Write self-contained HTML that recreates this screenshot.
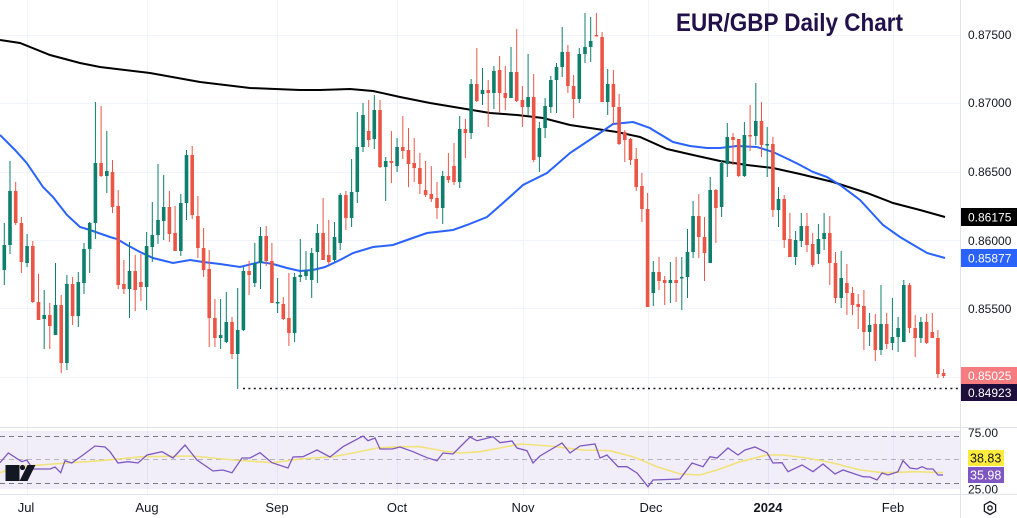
<!DOCTYPE html>
<html><head><meta charset="utf-8"><style>
html,body{margin:0;padding:0;background:#fff;}
svg{display:block;font-family:"Liberation Sans",Arial,sans-serif;}
</style></head><body>
<svg width="1017" height="518" viewBox="0 0 1017 518" xmlns="http://www.w3.org/2000/svg">
<defs>
<clipPath id="rsiAxis"><rect x="961" y="428" width="56" height="66"/></clipPath>
<clipPath id="plot"><rect x="0" y="0" width="960" height="427"/></clipPath>
</defs>
<rect width="1017" height="518" fill="#fff"/>
<!-- grid -->
<g stroke="#f0f3fa" stroke-width="1">
<path d="M0 35.5H960M0 103.5H960M0 172.5H960M0 240.5H960M0 308.5H960M0 377.5H960"/>
<path d="M27.5 0V494M147.5 0V494M277.5 0V494M397.5 0V494M523.5 0V494M648.5 0V494M768.5 0V494M893.5 0V494"/>
</g>
<!-- RSI panel bg -->
<rect x="0" y="431" width="960" height="58" fill="#7e57c2" fill-opacity="0.1"/>
<g stroke="#787b86" stroke-width="1" stroke-dasharray="5,4" fill="none">
<path d="M0 436.5H960"/>
<path d="M0 459.5H960" stroke-opacity="0.5"/>
<path d="M0 483.5H960"/>
</g>
<!-- separators -->
<g stroke="#e0e3eb" stroke-width="1">
<path d="M0 427.5H1017M0 494.5H1017M960.5 0V518"/>
</g>
<!-- title -->
<text x="676" y="31" font-size="25" font-weight="bold" fill="#22104a" textLength="227" lengthAdjust="spacingAndGlyphs">EUR/GBP Daily Chart</text>
<!-- dotted low line -->
<path d="M243 388.5H960" stroke="#131722" stroke-width="1.6" stroke-dasharray="2,3.4"/>
<g clip-path="url(#plot)">
<!-- MAs -->
<polyline fill="none" stroke="#000" stroke-width="2" points="0,40 20,43 50,55 80,63 100,67 150,73 200,82 250,88 300,90 320,90 350,89 373,91 400,97 430,103 460,108 490,113 517,115 543,118 570,125 590,128 617,132 640,137 667,149 693,155 720,161 747,165 773,168 800,174 833,182 867,193 893,203 920,210 945,217"/>
<polyline fill="none" stroke="#2962ff" stroke-width="2" points="0,135 15,150 26.7,163 43,187 53,197 67,215 80,227 90,230 110,237 117,239 127,245 140,252 153,258 165,261 173,263 190,260 203,262 220,264 240,267 260,262 273,264 287,268 300,271 313,270 325,267 340,260 353,253 373,247 393,245 407,240 427,233 453,230 467,225 487,217 503,203 523,185 547,173 570,153 597,135 613,124 633,122 650,128 653,130 673,142 690,146 707,148 720,148 737,146 757,147 773,152 790,160 800,165 813,172 827,177 840,185 860,200 883,225 900,237 927,253 945,258"/>
<!-- green candles -->
<path stroke="#0e7f6d" stroke-width="1" fill="none" d="M4.3 223V285M10 161V254M27.1 234V267M44.2 290V349M55.5 263V335M66.9 275V370M78.3 272V327M84 243V294M89.7 222V273M95.4 102V239M106.8 131V193M129.5 242V318M146.6 232V310M152.3 202V262M158 164V244M163.7 175V240M180.8 194V256M186.5 150V220M220.6 299V349M226.3 292V343M237.7 288V389M243.4 267V331M254.8 243V287M260.5 227V289M277.6 278V313M294.6 273V342M300.3 239V282M306 251V280M311.7 248V298M317.4 224V283M334.5 222V262M340.2 193V250M351.6 159V227M357.3 112V203M363 103V152M374.3 95V149M385.7 157V201M397.1 138V172M442.7 171V224M459.7 116V188M471.1 79V139M482.5 68V105M493.9 66V109M511 47V98M528.1 54V115M539.4 122V172M545.1 98V138M550.8 76V113M556.5 63V113M562.2 27V77M579.3 48V103M585 13V63M590.7 17V62M607.7 69V115M653.3 261V306M670.4 262V303M681.8 257V310M687.5 229V298M693.1 201V258M710.2 177V263M721.6 160V217M727.3 123V177M744.4 122V177M755.8 83V145M767.2 127V177M778.5 187V227M795.6 231V265M801.3 213V247M818.4 224V264M824.1 213V250M841.2 251V308M869.6 313V346M881 285V355M892.4 298V350M898.1 317V352M903.8 280V342M920.9 317V343"/>
<path fill="#0e7f6d" d="M2.5 245h3.6V270h-3.6ZM8.2 191h3.6V245h-3.6ZM25.3 246h3.6V263h-3.6ZM42.4 315h3.6V319h-3.6ZM53.7 305h3.6V335h-3.6ZM65.1 284h3.6V363h-3.6ZM76.5 282h3.6V316h-3.6ZM82.2 249h3.6V283h-3.6ZM87.9 223h3.6V249h-3.6ZM93.6 163h3.6V223h-3.6ZM105 171h3.6V176h-3.6ZM127.7 271h3.6V289h-3.6ZM144.8 246h3.6V287h-3.6ZM150.5 235h3.6V247h-3.6ZM156.2 220h3.6V235h-3.6ZM161.9 207h3.6V221h-3.6ZM179 203h3.6V251h-3.6ZM184.7 155h3.6V203h-3.6ZM218.8 335h3.6V338h-3.6ZM224.5 322h3.6V342h-3.6ZM235.9 330h3.6V354h-3.6ZM241.6 271h3.6V330h-3.6ZM253 263h3.6V283h-3.6ZM258.7 236h3.6V263h-3.6ZM275.8 302h3.6V303.5h-3.6ZM292.8 277h3.6V333h-3.6ZM298.5 275h3.6V277h-3.6ZM304.2 271h3.6V276h-3.6ZM309.9 253h3.6V280h-3.6ZM315.6 233h3.6V252h-3.6ZM332.7 237h3.6V260h-3.6ZM338.4 195h3.6V243h-3.6ZM349.8 192h3.6V218h-3.6ZM355.5 147h3.6V192h-3.6ZM361.2 115h3.6V147h-3.6ZM372.5 110h3.6V139h-3.6ZM383.9 161h3.6V167h-3.6ZM395.3 147h3.6V166h-3.6ZM440.9 176h3.6V208h-3.6ZM457.9 129h3.6V182h-3.6ZM469.3 84h3.6V133h-3.6ZM480.7 90h3.6V94h-3.6ZM492.1 71h3.6V93h-3.6ZM509.2 72h3.6V98h-3.6ZM526.3 97h3.6V107h-3.6ZM537.6 128h3.6V157h-3.6ZM543.3 106h3.6V128h-3.6ZM549 80h3.6V107h-3.6ZM554.7 67h3.6V80h-3.6ZM560.4 52h3.6V67h-3.6ZM577.5 54h3.6V99h-3.6ZM583.2 47h3.6V54h-3.6ZM588.9 41h3.6V47h-3.6ZM605.9 84h3.6V102h-3.6ZM651.5 272h3.6V293h-3.6ZM668.6 280h3.6V283h-3.6ZM680 277h3.6V278.5h-3.6ZM685.7 252h3.6V277h-3.6ZM691.3 216h3.6V252h-3.6ZM708.4 190h3.6V263h-3.6ZM719.8 163h3.6V207h-3.6ZM725.5 137h3.6V164h-3.6ZM742.6 135h3.6V176h-3.6ZM754 121h3.6V136h-3.6ZM765.4 144h3.6V145.5h-3.6ZM776.7 199h3.6V210h-3.6ZM793.8 240h3.6V257h-3.6ZM799.5 226h3.6V241h-3.6ZM816.6 239h3.6V254h-3.6ZM822.3 233h3.6V239h-3.6ZM839.4 278h3.6V298h-3.6ZM867.8 325h3.6V332h-3.6ZM879.2 324h3.6V350h-3.6ZM890.6 337h3.6V343h-3.6ZM896.3 328h3.6V337h-3.6ZM902 285h3.6V342h-3.6ZM919.1 322h3.6V338h-3.6Z"/>
<!-- red candles -->
<path stroke="#eb5545" stroke-width="1" fill="none" d="M15.7 182V225M21.4 217V273M32.8 241V303M38.5 274V320M49.8 303V349M61.2 295V373M72.6 277V325M101.1 106V177M112.5 160V213M118.2 190V289M123.9 260V294M135.2 255V311M140.9 254V301M169.4 191V242M175.1 206V251M192.2 146V219M197.9 196V258M203.6 228V277M209.2 250V347M214.9 299V347M232 317V359M249.1 261V295M266.2 226V266M271.9 243V303M283.3 297V320M288.9 273V346M323.1 198V260M328.8 220V265M345.9 191V230M368.7 100V147M380 100V168M391.4 131V183M402.8 116V159M408.5 128V187M414.2 138V182M419.9 153V194M425.6 161V197M431.3 166V202M437 182V219M448.4 153V183M454 143V185M465.4 119V158M476.8 48V102M488.2 80V127M499.6 56V113M505.3 66V110M516.7 29V102M522.4 86V127M533.7 74V162M567.9 45V93M573.6 75V118M596.4 13V36M602.1 32V102M613.4 70V124M619.1 94V145M624.8 130V162M630.5 138V165M636.2 148V191M641.9 173V222M647.6 193V307M659 257V290M664.7 276V305M676.1 257V302M698.8 194V258M704.5 217V281M715.9 189V243M733 133V165M738.7 139V177M750.1 105V151M761.5 102V157M772.9 137V217M784.2 195V248M789.9 213V257M807 213V252M812.7 233V267M829.8 216V285M835.5 252V303M846.9 264V315M852.5 287V315M858.2 294V329M863.9 290V350M875.3 314V361M886.7 313V349M909.5 283V333M915.2 315V357M926.6 314V344M932.3 313V338M937.9 330V378M943.6 369V378"/>
<path fill="#eb5545" d="M13.9 191h3.6V223h-3.6ZM19.6 223h3.6V262h-3.6ZM31 246h3.6V302h-3.6ZM36.7 302h3.6V320h-3.6ZM48 315h3.6V326h-3.6ZM59.4 305h3.6V363h-3.6ZM70.8 284h3.6V316h-3.6ZM99.3 163h3.6V176h-3.6ZM110.7 172h3.6V207h-3.6ZM116.4 206h3.6V285h-3.6ZM122.1 284h3.6V289h-3.6ZM133.4 271h3.6V290h-3.6ZM139.1 282h3.6V287h-3.6ZM167.6 207h3.6V234h-3.6ZM173.3 233h3.6V251h-3.6ZM190.4 155h3.6V215h-3.6ZM196.1 216h3.6V248h-3.6ZM201.8 248h3.6V270h-3.6ZM207.4 269h3.6V318h-3.6ZM213.1 318h3.6V338h-3.6ZM230.2 322h3.6V354h-3.6ZM247.3 271h3.6V275h-3.6ZM264.4 236h3.6V261h-3.6ZM270.1 261h3.6V303h-3.6ZM281.5 304h3.6V319h-3.6ZM287.1 318h3.6V333h-3.6ZM321.3 233h3.6V260h-3.6ZM327 255h3.6V262h-3.6ZM344.1 195h3.6V218h-3.6ZM366.9 131h3.6V140h-3.6ZM378.2 110h3.6V167h-3.6ZM389.6 161h3.6V163h-3.6ZM401 147h3.6V151h-3.6ZM406.7 150h3.6V164h-3.6ZM412.4 163h3.6V168h-3.6ZM418.1 168h3.6V184h-3.6ZM423.8 190h3.6V195h-3.6ZM429.5 194h3.6V199h-3.6ZM435.2 198h3.6V208h-3.6ZM446.6 176h3.6V180h-3.6ZM452.2 166h3.6V182h-3.6ZM463.6 129h3.6V133h-3.6ZM475 84h3.6V101h-3.6ZM486.4 90h3.6V93h-3.6ZM497.8 70h3.6V93h-3.6ZM503.5 93h3.6V98h-3.6ZM514.9 72h3.6V101h-3.6ZM520.6 100h3.6V107h-3.6ZM531.9 97h3.6V160h-3.6ZM566.1 52h3.6V86h-3.6ZM571.8 86h3.6V99h-3.6ZM594.6 35h3.6V36.5h-3.6ZM600.3 37h3.6V102h-3.6ZM611.6 84h3.6V107h-3.6ZM617.3 107h3.6V144h-3.6ZM623 132h3.6V140h-3.6ZM628.7 139h3.6V160h-3.6ZM634.4 159h3.6V187h-3.6ZM640.1 186h3.6V209h-3.6ZM645.8 209h3.6V307h-3.6ZM657.2 272h3.6V281h-3.6ZM662.9 280h3.6V283h-3.6ZM674.3 280h3.6V283h-3.6ZM697 216h3.6V237h-3.6ZM702.7 237h3.6V253h-3.6ZM714.1 190h3.6V208h-3.6ZM731.2 137h3.6V140h-3.6ZM736.9 139h3.6V176h-3.6ZM748.3 135h3.6V136.5h-3.6ZM759.7 121h3.6V145h-3.6ZM771.1 144h3.6V210h-3.6ZM782.4 199h3.6V240h-3.6ZM788.1 239h3.6V257h-3.6ZM805.2 226h3.6V245h-3.6ZM810.9 244h3.6V265h-3.6ZM828 233h3.6V263h-3.6ZM833.7 263h3.6V298h-3.6ZM845.1 283h3.6V293h-3.6ZM850.7 293h3.6V305h-3.6ZM856.4 304h3.6V307h-3.6ZM862.1 306h3.6V332h-3.6ZM873.5 324h3.6V350h-3.6ZM884.9 324h3.6V344h-3.6ZM907.7 285h3.6V328h-3.6ZM913.4 328h3.6V338h-3.6ZM924.8 322h3.6V343h-3.6ZM930.5 332h3.6V338h-3.6ZM936.1 338h3.6V374h-3.6ZM941.8 373h3.6V376h-3.6Z"/>
</g>
<!-- RSI lines -->
<polyline fill="none" stroke="#f2e27a" stroke-width="1.6" points="0,472.7 17,466.7 40,465 67,463 100,460.7 143,456.7 193,456 233,460 273,462.7 300,459 333,456.7 353,453 377,448 400,446.7 420,446.7 443,451 460,453 480,451.7 500,448 520,444 550,446 583,450 610,450.7 633,456.7 657,466.7 680,474 700,475 717,470 740,461.7 767,455 783,455 807,458 833,463 860,470 883,472.7 917,471.7 943,472.7"/>
<polyline fill="none" stroke="#7e57c2" stroke-width="1.3" points="0,462.7 8.3,453 21.7,461.7 26.7,460 33,469 50,469 55,467 60.7,472.7 65,460.7 71.7,463 83,455 95,446 105,447 110,451.7 118,463 128,461.7 138,463 147,455 162,451.7 173,458 185,445 197,460 213,471 223,470 232,472.7 242,458 250,458 260,452.7 272,462.7 288,468 293,457 303,456.7 317,450 330,457 343,446.7 363,436 368,440.7 375,438 380,449 392,449 400,447 413,451.7 427,457.7 437,460.7 443,453 453,454 462,445 470,437 477,440.7 493,436.7 500,442.7 512,441 517,448 527,450.7 533,463 540,456 562,443 570,453 580,446 595,444 600,458 607,455 618,466.7 627,466.7 637,473 648,486.7 653,480 680,479 692,463 703,466.7 710,456.7 717,458 728,448 738,455 745,450 755,447 767,452.7 773,463 782,462.7 788,471.7 802,465 813,471.7 823,464 835,474 843,470 863,476.7 870,477 877,480 882,473 888,475 898,471.7 903,460.7 910,468 917,469 922,466.7 927,469 933,469 938,475 943,475"/>
<!-- TV logo -->
<g fill="#131722">
<path d="M5.5 465h14v6h-6.5v10h-7.5z" />
<rect x="12.5" y="465" width="7" height="16"/>
<circle cx="22.5" cy="467.5" r="2.6"/>
<path d="M27.5 465h8l-8 16h-8z"/>
</g>
<!-- price axis labels -->
<g font-size="12" fill="#131722">
<text x="968" y="39">0.87500</text>
<text x="968" y="107">0.87000</text>
<text x="968" y="176">0.86500</text>
<text x="968" y="245">0.86000</text>
<text x="968" y="313">0.85500</text>
</g>
<rect x="961" y="208" width="56" height="18" fill="#000"/>
<text x="968" y="221.5" font-size="12" fill="#fff">0.86175</text>
<rect x="961" y="249" width="56" height="18" fill="#2962ff"/>
<text x="968" y="262.5" font-size="12" fill="#fff">0.85877</text>
<rect x="961" y="367" width="56" height="17" fill="#f77c80"/>
<text x="968" y="380" font-size="12" fill="#fff">0.85025</text>
<rect x="961" y="384" width="56" height="17" fill="#1c0d3a"/>
<text x="968" y="397" font-size="12" fill="#fff">0.84923</text>
<!-- RSI axis -->
<g clip-path="url(#rsiAxis)" font-size="12" fill="#131722">
<text x="968" y="437">75.00</text>
<text x="968" y="493.5">25.00</text>
</g>
<rect x="968" y="450" width="36" height="16" fill="#ffeb3b"/>
<text x="970" y="462.5" font-size="12.5" fill="#131722">38.83</text>
<rect x="968" y="467" width="36" height="16" fill="#7e57c2"/>
<text x="970" y="479.5" font-size="12.5" fill="#fff">35.98</text>
<!-- time axis -->
<g font-size="13" fill="#131722" text-anchor="middle">
<text x="26" y="512">Jul</text>
<text x="147" y="512">Aug</text>
<text x="277" y="512">Sep</text>
<text x="397" y="512">Oct</text>
<text x="523" y="512">Nov</text>
<text x="651" y="512">Dec</text>
<text x="768" y="512" font-weight="bold">2024</text>
<text x="893" y="512">Feb</text>
</g>
<!-- settings icon -->
<g fill="none" stroke="#131722" stroke-width="1.3">
<path d="M990 501.5l5.6 3.2v6.6l-5.6 3.2l-5.6-3.2v-6.6z"/>
<circle cx="990" cy="508" r="2.2"/>
</g>
</svg>
</body></html>
